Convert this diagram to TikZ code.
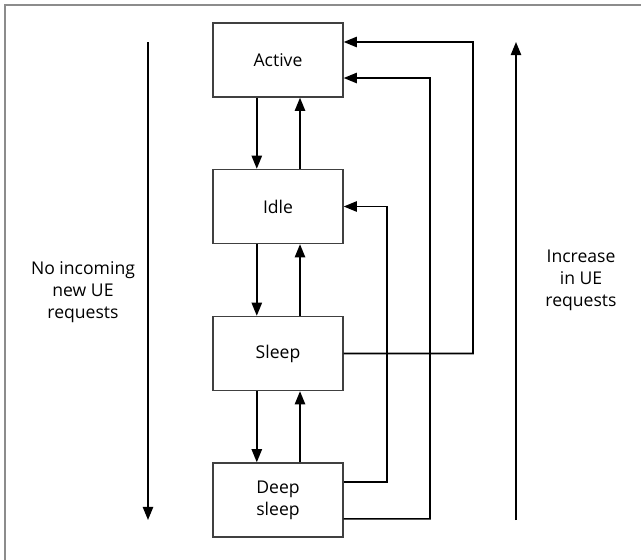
\documentclass[tikz,border=0pt]{standalone}
\usepackage{fontspec}
\setmainfont{Open Sans}
\usetikzlibrary{arrows.meta}

\begin{document}
\begin{tikzpicture}[x=0.025cm, y=-0.025cm, >={Triangle[length=3.3mm,width=2.6mm]},
  state/.style={draw=black!75, line width=1pt, minimum width=3.25cm, minimum height=1.85cm, align=center, font=\fontsize{12.5}{15.5}\selectfont},
  link/.style={->, line width=1.1pt},
  note/.style={align=center, font=\fontsize{12.5}{15.6}\selectfont}]
\useasboundingbox (0,0) rectangle (641,560);
\draw [black!45, line width=1.2pt] (5,560) -- (5,5) -- (641,5);
% states
\node [state] (active) at (278,60) {Active};
\node [state] (idle) at (278,206.5) {Idle};
\node [state] (sleep) at (278,353.5) {Sleep};
\node [state] (deep) at (278,500) {Deep\\sleep};
% step down / step up
\draw [link] ([xshift=-0.53cm]active.south) -- ([xshift=-0.53cm]idle.north);
\draw [link] ([xshift=0.55cm]idle.north) -- ([xshift=0.55cm]active.south);
\draw [link] ([xshift=-0.53cm]idle.south) -- ([xshift=-0.53cm]sleep.north);
\draw [link] ([xshift=0.55cm]sleep.north) -- ([xshift=0.55cm]idle.south);
\draw [link] ([xshift=-0.53cm]sleep.south) -- ([xshift=-0.53cm]deep.north);
\draw [link] ([xshift=0.55cm]deep.north) -- ([xshift=0.55cm]sleep.south);
% wake-up paths
\draw [link] (sleep.east) -| (473,42) -- ([yshift=0.45cm]active.east);
\draw [link] ([yshift=-0.47cm]deep.east) -| (430,78) -- ([yshift=-0.45cm]active.east);
\draw [link] ([yshift=0.45cm]deep.east) -| (387,206.5) -- (idle.east);
% trends
\coordinate (downtop) at (148,42);
\coordinate (downend) at (148,520);
\coordinate (upbot) at (516,520);
\coordinate (uptop) at (516,42);
\draw [link] (downtop) -- (downend);
\draw [link] (upbot) -- (uptop);
\node [note] (noreq) at (83,292) {No incoming\\new UE\\requests};
\node [note] (incr) at (581,280) {Increase\\in UE\\requests};
\end{tikzpicture}
\end{document}
